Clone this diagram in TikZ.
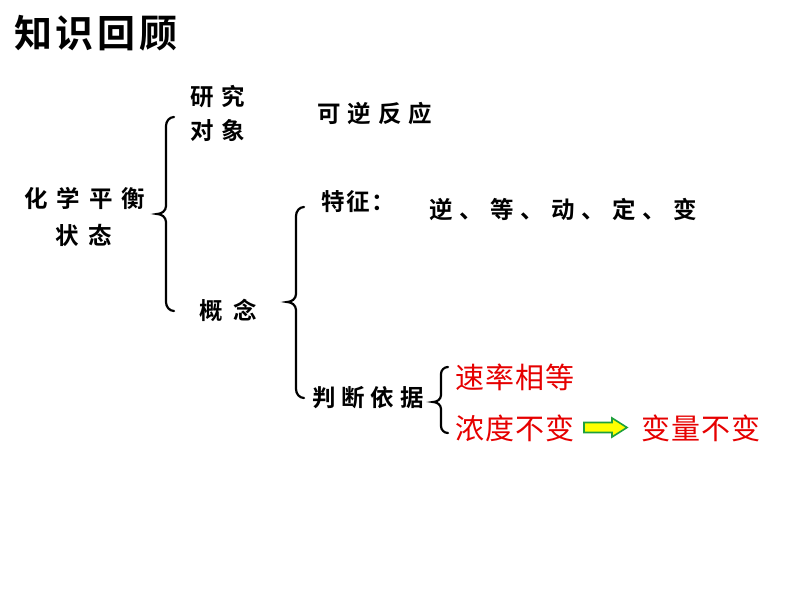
\documentclass[tikz,border=0pt]{standalone}
\usepackage{fontspec}
\setmainfont{Noto Sans CJK SC}
\newfontfamily\cjkb{Noto Sans CJK SC Bold}
\newfontfamily\cjkr{Noto Sans CJK SC}
\definecolor{redtxt}{RGB}{230,0,0}
\definecolor{arrfill}{RGB}{255,255,0}
\definecolor{arrdraw}{RGB}{30,160,60}
\tikzset{
  blk/.style={inner sep=0pt, font=\cjkb\fontsize{23.5}{23.5}\selectfont, text=black},
  ttl/.style={inner sep=0pt, font=\cjkb\fontsize{38}{38}\selectfont, text=black},
  rd/.style={inner sep=0pt, font=\cjkr\fontsize{29}{29}\selectfont, text=redtxt},
  brc/.style={line width=2.2pt, black, line cap=round},
  bigarrow/.style={fill=arrfill, draw=arrdraw, line width=1.6pt, line join=miter}
}
\newcommand\bracedraw[4]{% x, ytop, ymid, ybot
  \draw[brc] (#1+8,#2) to[out=180,in=90] (#1,#2+9) -- (#1,#3-8)
    to[out=-90,in=0] (#1-9,#3) to[out=0,in=90] (#1,#3+8)
    -- (#1,#4-9) to[out=-90,in=180] (#1+8,#4);}
\begin{document}
\begin{tikzpicture}[x=1pt,y=-1pt]
\useasboundingbox (0,0) rectangle (794,596);
\fill[white] (0,0) rectangle (794,596);
% title
\node[ttl] (title) at (96,33) {知\hspace{4pt}识\hspace{4pt}回\hspace{4pt}顾};
% left block
\node[blk] (hx1) at (85,198) {化\hspace{9pt}学\hspace{9pt}平\hspace{9pt}衡};
\node[blk] (hx2) at (84,235) {状\hspace{10pt}态};
% first brace
\bracedraw{166}{117}{214}{311}
\node[blk] (yj1) at (218,97) {研\hspace{8pt}究};
\node[blk] (yj2) at (218,131) {对\hspace{8pt}象};
\node[blk] (kn) at (375,114) {可\hspace{7pt}逆\hspace{7pt}反\hspace{7pt}应};
\node[blk] (gn) at (228,310) {概\hspace{11pt}念};
% second brace
\bracedraw{296}{207}{302}{398}
\node[blk] (tz) at (358,202) {特\hspace{2pt}征\hspace{1pt}：};
\node[blk] (tzv) at (563,209) {逆\hspace{7pt}、\hspace{7pt}等\hspace{7pt}、\hspace{7pt}动\hspace{7pt}、\hspace{7pt}定\hspace{7pt}、\hspace{7pt}变};
\node[blk] (pd) at (368,398) {判\hspace{6pt}断\hspace{6pt}依\hspace{6pt}据};
% third brace
\draw[brc] (448,367) to[out=180,in=90] (441,374) -- (441,395)
  to[out=-90,in=0] (433,402) to[out=0,in=90] (441,409)
  -- (441,426) to[out=-90,in=180] (448,433);
\node[rd] (sl) at (515,377) {速\hspace{1pt}率\hspace{1pt}相\hspace{1pt}等};
\node[rd] (nd) at (515,428) {浓\hspace{1pt}度\hspace{1pt}不\hspace{1pt}变};
\node[rd] (bl) at (701,428) {变\hspace{1pt}量\hspace{1pt}不\hspace{1pt}变};
% arrow
\coordinate (a0) at (584,427.5);
\draw[bigarrow] (a0) ++(0,-5) -- ++(28,0) -- ++(0,-4.5) -- ++(15,9.5) -- ++(-15,9.5) -- ++(0,-4.5) -- ++(-28,0) -- cycle;
\end{tikzpicture}
\end{document}
